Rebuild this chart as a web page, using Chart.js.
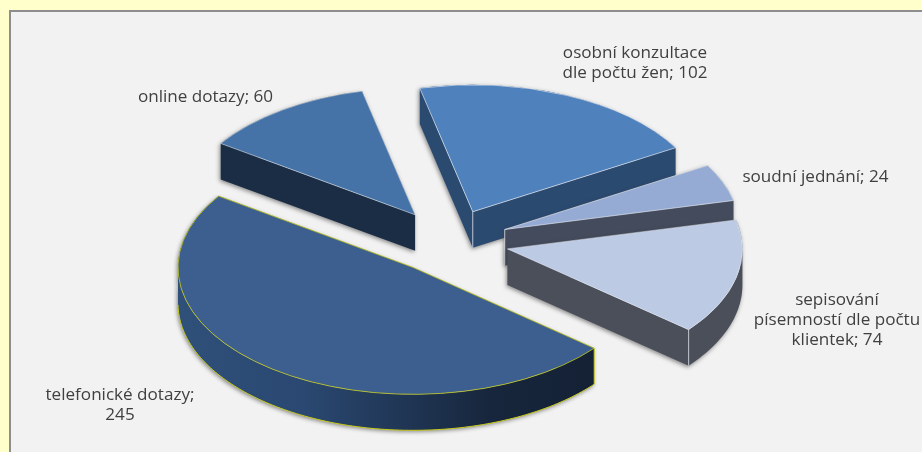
<!DOCTYPE html>
<html lang="cs">
<head>
<meta charset="utf-8">
<style>html,body{margin:0;padding:0;background:#ffffcb}canvas{display:block}</style>
<script src="https://cdn.jsdelivr.net/npm/chart.js@4"></script>
</head>
<body>
<canvas id="c" width="922" height="452"></canvas>
<script>
const categories = ['online dotazy', 'osobní konzultace dle počtu žen', 'soudní jednání', 'sepisování písemností dle počtu klientek', 'telefonické dotazy'];
const values = [60, 102, 24, 74, 245];
const topColors = ['#4673a7', '#4f81bd', '#95abd3', '#bccae3', '#3c5f8f'];
const sideColors = ['#1b2d45', '#2b4a70', '#434b5c', '#4a4f5a', '#2f5079'];
const edgeColors = ['rgba(225,232,240,.75)', 'rgba(235,240,248,.85)', 'rgba(240,242,248,.8)', 'rgba(240,242,248,.6)', '#c8cc18'];

const view = {cx: 449, cy: 241.5, tilt: 0.54, depth: 36, radius: 235, explode: 60, rotation: -55.8};
const labelBoxes = [
  {x: 205.5, y: 102, wrap: 200},
  {x: 635, y: 58, wrap: 150},
  {x: 815.5, y: 182, wrap: 200},
  {x: 837, y: 305, wrap: 152},
  {x: 120, y: 400, wrap: 160}
];

function screen(chart) {
  const bx = (chart.chartArea.left + chart.chartArea.right) / 2;
  const by = (chart.chartArea.top + chart.chartArea.bottom) / 2;
  return {X: x => x + view.cx - bx, Y: y => view.cy + view.tilt * (y - by), bx, by};
}

function polygon(el, s) {
  const pts = [[s.X(el.x), s.Y(el.y)]];
  const n = Math.max(4, Math.ceil((el.endAngle - el.startAngle) * 40));
  for (let i = 0; i <= n; i++) {
    const a = el.startAngle + (el.endAngle - el.startAngle) * i / n;
    pts.push(rim(el, s, a));
  }
  return pts;
}
function rim(el, s, a) {
  return [s.X(el.x + el.outerRadius * Math.cos(a)), s.Y(el.y + el.outerRadius * Math.sin(a))];
}

const pie3d = {
  id: 'pie3d',
  afterDatasetsUpdate(chart) {
    chart.getDatasetMeta(0).data.forEach(el => {
      const mid = (el.startAngle + el.endAngle) / 2;
      el.x += Math.cos(mid) * view.explode;
      el.y += Math.sin(mid) * view.explode;
    });
  },
  beforeDraw(chart) {
    const c = chart.ctx;
    c.save();
    c.fillStyle = '#ffffcb';
    c.fillRect(0, 0, chart.width, chart.height);
    c.fillStyle = '#8e8e8e';
    c.fillRect(9, 10, chart.width - 9, chart.height - 10);
    c.fillStyle = '#f2f2f2';
    c.fillRect(11, 12, chart.width - 11, chart.height - 12);
    c.restore();
  },
  beforeDatasetsDraw(chart) {
    const c = chart.ctx;
    const arcs = chart.getDatasetMeta(0).data;
    const d = view.depth;
    const s = screen(chart);
    arcs.forEach((el, i) => {
      const pts = polygon(el, s);
      c.save();
      c.beginPath();
      const m = pts.length;
      for (let j = 0; j < m; j++) {
        const a = pts[j], b = pts[(j + 1) % m];
        const area = (b[0] - a[0]) * d;
        const q = area >= 0 ? [a, b, [b[0], b[1] + d], [a[0], a[1] + d]] : [b, a, [a[0], a[1] + d], [b[0], b[1] + d]];
        c.moveTo(q[0][0], q[0][1]);
        c.lineTo(q[1][0], q[1][1]);
        c.lineTo(q[2][0], q[2][1]);
        c.lineTo(q[3][0], q[3][1]);
        c.closePath();
      }
      if (i === 4) {
        const gr = c.createLinearGradient(view.cx - 270, 0, view.cx + 146, 0);
        gr.addColorStop(0, sideColors[4]);
        gr.addColorStop(0.3, '#2a4871');
        gr.addColorStop(0.75, '#17263c');
        gr.addColorStop(1, '#142135');
        c.fillStyle = gr;
      } else {
        c.fillStyle = sideColors[i];
      }
      c.shadowColor = 'rgba(60,60,60,.6)';
      c.shadowBlur = 4;
      c.shadowOffsetX = -1;
      c.shadowOffsetY = 1.5;
      c.fill();
      c.shadowColor = 'transparent';
      c.lineWidth = 1;
      if (i === 4) {
        c.strokeStyle = edgeColors[4];
        c.beginPath();
        const p0 = rim(el, s, el.startAngle);
        c.moveTo(p0[0], p0[1]);
        c.lineTo(p0[0], p0[1] + d);
        for (let a = el.startAngle; a <= Math.PI; a += 0.02) {
          const p = rim(el, s, a);
          c.lineTo(p[0], p[1] + d);
        }
        c.stroke();
      } else {
        c.strokeStyle = 'rgba(225,228,235,.8)';
        const corner = i === 3 ? rim(el, s, el.endAngle) : (i === 1 || i === 2 ? pts[0] : null);
        if (corner) {
          c.beginPath();
          c.moveTo(corner[0], corner[1]);
          c.lineTo(corner[0], corner[1] + d);
          c.stroke();
        }
      }
      c.restore();
    });
    c.save();
    c.transform(1, 0, 0, view.tilt, view.cx - s.bx, view.cy - view.tilt * s.by);
  },
  afterDatasetsDraw(chart) {
    const c = chart.ctx;
    c.restore();
    c.save();
    c.font = '15.4px "Open Sans"';
    c.fillStyle = '#404040';
    c.textAlign = 'center';
    c.textBaseline = 'alphabetic';
    values.forEach((v, i) => {
      const words = (categories[i] + '; ' + v).split(' ');
      const box = labelBoxes[i];
      const lines = [];
      let cur = '';
      words.forEach(w => {
        const t = cur ? cur + ' ' + w : w;
        if (cur && c.measureText(t).width > box.wrap) { lines.push(cur); cur = w; } else cur = t;
      });
      lines.push(cur);
      lines.forEach((l, j) => {
        c.save();
        c.translate(box.x, box.y + j * 20);
        c.scale(1.11, 1);
        c.fillText(l, 0, 0);
        c.restore();
      });
    });
    c.restore();
  }
};

new Chart(document.getElementById('c'), {
  type: 'pie',
  data: {
    labels: categories,
    datasets: [{
      data: values,
      backgroundColor: topColors,
      borderColor: edgeColors,
      borderWidth: 1,
      radius: view.radius,
      clip: false
    }]
  },
  options: {
    responsive: false,
    animation: false,
    events: [],
    rotation: view.rotation,
    plugins: {legend: {display: false}, tooltip: {enabled: false}, title: {display: false}}
  },
  plugins: [pie3d]
});
</script>
</body>
</html>
